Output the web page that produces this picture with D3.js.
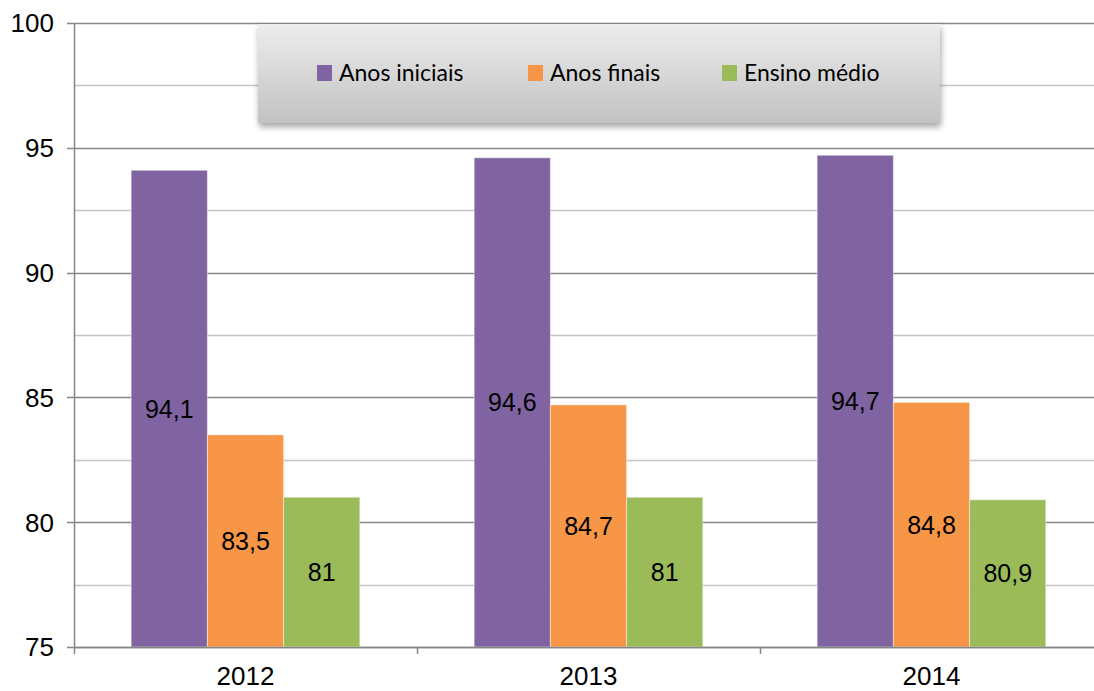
<!DOCTYPE html>
<html>
<head>
<meta charset="utf-8">
<script src="https://cdn.jsdelivr.net/npm/d3@7"></script>
<style>
  body { margin: 0; background: #fff; }
  svg { display: block; }
</style>
</head>
<body>
<div id="chart"></div>
<script>
// chart values
var years = ['2012', '2013', '2014'];
var seriesNames = ['Anos iniciais', 'Anos finais', 'Ensino médio'];
var anosIniciais = [94.1, 94.6, 94.7];
var anosFinais = [83.5, 84.7, 84.8];
var ensinoMedio = [81, 81, 80.9];
var yTicks = [75, 80, 85, 90, 95, 100];
var colors = ['#8064A2', '#F79646', '#9BBB59'];

var W = 1094, H = 691;
var margin = {top: 23, left: 74, bottom: 44};
var plotW = 1029; // last category runs past the edge of the picture
var plotH = H - margin.top - margin.bottom;
var axisFont = 'Liberation Sans, Arial, sans-serif';

var svg = d3.select('#chart').append('svg')
    .attr('width', W).attr('height', H);

var defs = svg.append('defs');
var grad = defs.append('linearGradient').attr('id', 'legGrad')
    .attr('x1', 0).attr('y1', 0).attr('x2', 0).attr('y2', 1);
grad.append('stop').attr('offset', '0%').attr('stop-color', '#ededed');
grad.append('stop').attr('offset', '100%').attr('stop-color', '#c2c2c2');
var shadow = defs.append('filter').attr('id', 'shadow')
    .attr('x', '-5%').attr('y', '-20%').attr('width', '110%').attr('height', '150%');
shadow.append('feDropShadow').attr('dx', 1).attr('dy', 4).attr('stdDeviation', 3)
    .attr('flood-color', '#000').attr('flood-opacity', 0.35);

var g = svg.append('g').attr('transform', 'translate(' + margin.left + ',' + margin.top + ')');

var y = d3.scaleLinear().domain([75, 100]).range([plotH, 0]);
var x0 = d3.scaleBand().domain(years).range([0, plotW]).paddingInner(0).paddingOuter(0);
var x1 = d3.scaleBand().domain(seriesNames)
    .range([x0.bandwidth() / 6, x0.bandwidth() * 5 / 6]).padding(0);

// gridlines: minor every 2.5, major at labelled ticks
var minor = d3.range(77.5, 100, 5);
g.selectAll('.minor').data(minor).enter().append('line')
    .attr('x1', 0).attr('x2', plotW)
    .attr('y1', function(d){ return Math.round(y(d)) + 0.5; })
    .attr('y2', function(d){ return Math.round(y(d)) + 0.5; })
    .attr('stroke', '#c4c4c4').attr('stroke-width', 1.3);
g.selectAll('.major').data(yTicks).enter().append('line')
    .attr('x1', -7).attr('x2', plotW)
    .attr('y1', function(d){ return Math.round(y(d)) + 0.5; })
    .attr('y2', function(d){ return Math.round(y(d)) + 0.5; })
    .attr('stroke', '#868686').attr('stroke-width', 1.3);

// bars
var rows = years.map(function(yr, i) {
    return [anosIniciais[i], anosFinais[i], ensinoMedio[i]].map(function(v, j) {
        return {year: yr, name: seriesNames[j], value: v, color: colors[j]};
    });
});
var groups = g.selectAll('.grp').data(rows).enter().append('g')
    .attr('transform', function(d){ return 'translate(' + x0(d[0].year) + ',0)'; });
groups.selectAll('rect').data(function(d){ return d; }).enter().append('rect')
    .attr('x', function(d){ return x1(d.name); })
    .attr('width', x1.bandwidth())
    .attr('y', function(d){ return y(d.value); })
    .attr('height', function(d){ return plotH - y(d.value); })
    .attr('fill', function(d){ return d.color; })
    .attr('stroke', 'rgba(255,255,255,0.45)').attr('stroke-width', 1);
groups.selectAll('text').data(function(d){ return d; }).enter().append('text')
    .attr('x', function(d){ return x1(d.name) + x1.bandwidth() / 2; })
    .attr('y', function(d){ return (y(d.value) + plotH) / 2; })
    .attr('dy', '0.36em')
    .attr('text-anchor', 'middle')
    .attr('font-family', axisFont)
    .attr('font-size', 25).attr('fill', '#000')
    .text(function(d){ return String(d.value).replace('.', ','); });

// axes lines
g.append('line').attr('x1', 0.5).attr('x2', 0.5).attr('y1', 0).attr('y2', plotH + 7)
    .attr('stroke', '#868686').attr('stroke-width', 1.5);
g.append('line').attr('x1', 0).attr('x2', plotW)
    .attr('y1', Math.round(plotH) + 0.5).attr('y2', Math.round(plotH) + 0.5)
    .attr('stroke', '#868686').attr('stroke-width', 1.5);
g.selectAll('.xtick').data(years.slice(1)).enter().append('line')
    .attr('x1', function(d){ return x0(d) + 0.5; }).attr('x2', function(d){ return x0(d) + 0.5; })
    .attr('y1', plotH).attr('y2', plotH + 7)
    .attr('stroke', '#868686').attr('stroke-width', 1.5);

// tick labels
g.selectAll('.ylab').data(yTicks).enter().append('text')
    .attr('x', -20).attr('y', function(d){ return y(d); }).attr('dy', '0.36em')
    .attr('text-anchor', 'end')
    .attr('font-family', axisFont)
    .attr('font-size', 26).attr('fill', '#000')
    .text(function(d){ return d; });
g.selectAll('.xlab').data(years).enter().append('text')
    .attr('x', function(d){ return x0(d) + x0.bandwidth() / 2; })
    .attr('y', plotH + 38)
    .attr('text-anchor', 'middle')
    .attr('font-family', axisFont)
    .attr('font-size', 26).attr('fill', '#000')
    .text(function(d){ return d; });

// legend box
var leg = svg.append('g').attr('transform', 'translate(258,24)');
leg.append('rect').attr('width', 682).attr('height', 99)
    .attr('fill', 'url(#legGrad)').attr('filter', 'url(#shadow)');
var legX = [59, 270, 464];
var items = leg.selectAll('.item').data(seriesNames).enter().append('g')
    .attr('transform', function(d, i){ return 'translate(' + legX[i] + ',41)'; });
items.append('rect').attr('width', 15).attr('height', 16)
    .attr('fill', function(d, i){ return colors[i]; });
items.append('text').attr('x', 22).attr('y', 16)
    .attr('font-family', 'Lato, Open Sans, sans-serif')
    .attr('font-size', 23).attr('fill', '#000')
    .text(function(d){ return d; });
</script>
</body>
</html>
